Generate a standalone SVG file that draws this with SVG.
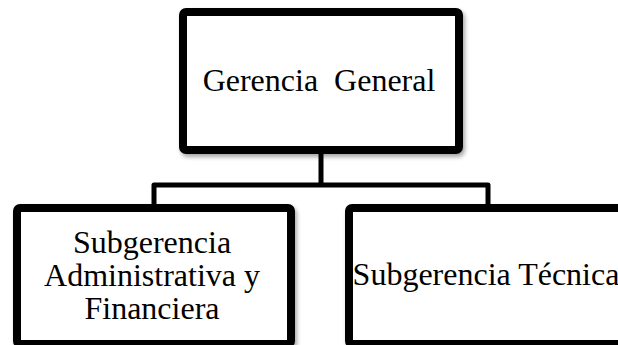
<svg xmlns="http://www.w3.org/2000/svg" width="618" height="345" viewBox="0 0 618 345">
<defs>
<filter id="sh" x="-10%" y="-10%" width="125%" height="130%">
<feDropShadow dx="2" dy="3" stdDeviation="2" flood-color="#000" flood-opacity="0.35"/>
</filter>
<style>
.box{fill:#fff;stroke:#000;stroke-width:8;stroke-linejoin:round;filter:url(#sh)}
.lbl{font-family:"Liberation Serif","Times New Roman",serif;font-size:32px;fill:#000;text-anchor:middle}
.conn{fill:none;stroke:#000;stroke-width:5;stroke-linejoin:round}
</style>
</defs>
<rect width="618" height="345" fill="#fff"/>
<g id="connectors">
<path class="conn" d="M321,154 V185 M154,204 V185 H488 V204"/>
</g>
<g id="gerencia-general">
<rect class="box" x="183" y="12" width="276" height="138" rx="3"/>
<text class="lbl" x="319" y="91" xml:space="preserve">Gerencia  General</text>
</g>
<g id="subgerencia-administrativa">
<rect class="box" x="17" y="208" width="274" height="136" rx="3"/>
<text class="lbl" x="152" y="253">Subgerencia</text>
<text class="lbl" x="152" y="286">Administrativa y</text>
<text class="lbl" x="152" y="319">Financiera</text>
</g>
<g id="subgerencia-tecnica">
<rect class="box" x="349" y="208" width="276" height="136" rx="3"/>
<text class="lbl" x="486" y="285">Subgerencia Técnica</text>
</g>
</svg>
